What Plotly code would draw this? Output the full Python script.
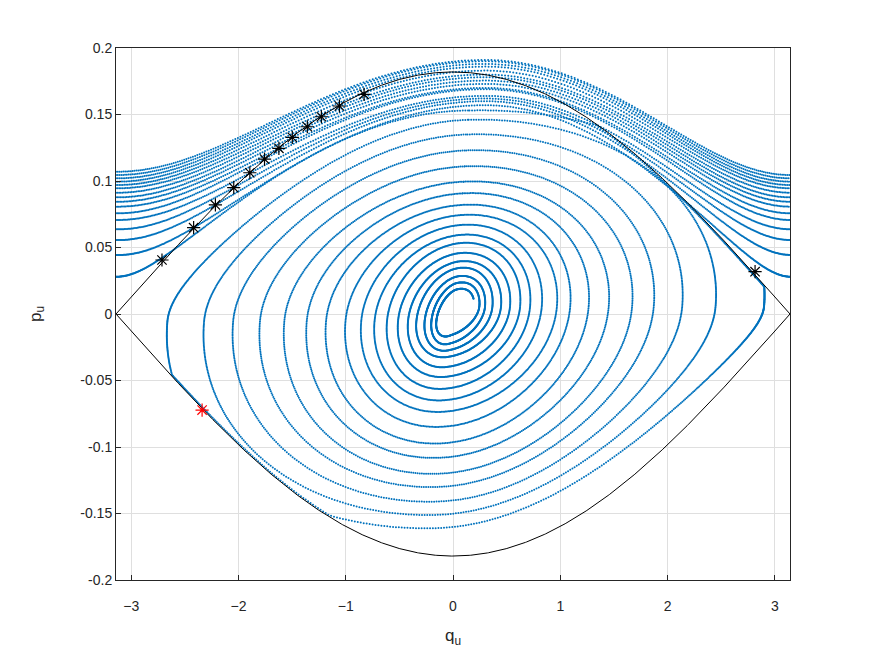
import numpy as np
import plotly.graph_objects as go

# separatrix half height at q = 0
sep_amp = 0.182

# rotating passes: p at the left edge (q = -pi); pass i ends at the right edge with pass_left[i+1]
pass_left = [0.107, 0.1045, 0.102, 0.0995, 0.097, 0.0945, 0.0912, 0.0877, 0.0844,
             0.0807, 0.0757, 0.0707, 0.0637, 0.0556, 0.0444, 0.028]
# peak p of each full rotating pass
pass_peak = [0.191, 0.190, 0.188, 0.186, 0.183, 0.180, 0.178, 0.1755, 0.173,
             0.170, 0.169, 0.164, 0.162, 0.160, 0.157]
peak_q = 0.3

# librating loops after capture: crossings of q = 0 (top/bottom) and p = 0 (right/left)
lib_top = [0.153, 0.146, 0.135, 0.123, 0.111, 0.0995, 0.0907, 0.082, 0.0744, 0.0669,
           0.0594, 0.0532, 0.0456, 0.0393, 0.0343, 0.028, 0.023, 0.018]
lib_right = [2.894, 2.442, 2.131, 1.866, 1.664, 1.446, 1.259, 1.087, 0.963, 0.822,
             0.713, 0.620, 0.526, 0.442, 0.362, 0.293, 0.24, 0.19]
lib_bottom = [-0.161, -0.151, -0.141, -0.13, -0.12, -0.108, -0.0972, -0.0847, -0.0734,
              -0.0647, -0.056, -0.047, -0.0396, -0.032, -0.027, -0.022, -0.0158]
lib_left = [-2.657, -2.315, -2.044, -1.794, -1.567, -1.358, -1.178, -0.997, -0.850,
            -0.726, -0.610, -0.507, -0.414, -0.336, -0.259, -0.196, -0.150]
end_p = 0.0055

# markers on the separatrix
star_q = [-2.713, -2.418, -2.215, -2.044, -1.894, -1.757, -1.623, -1.498, -1.358,
          -1.227, -1.059, -0.829, 2.816]
star_p = [0.0406, 0.0649, 0.0820, 0.0950, 0.1062, 0.1165, 0.1246, 0.1328, 0.1408,
          0.1483, 0.1564, 0.1652, 0.0318]
red_q = [-2.339]
red_p = [-0.0722]

PI = np.pi
SX, SY = 107.0, 1330.0          # px per data unit, used only for dot spacing
W2 = (sep_amp / 2) ** 2
TILT = 0.006
SHEAR = 1.0


def sample(q, p, h=0.16):
    # place dots at equal time steps of the pendulum flow
    dq = np.diff(q) * SX
    dp = np.diff(p) * SY
    ds = np.hypot(dq, dp)
    qm = (q[1:] + q[:-1]) / 2
    pm = (p[1:] + p[:-1]) / 2
    v = np.hypot(SX * pm, SY * W2 * np.sin(qm)) + 0.05
    t = np.concatenate([[0], np.cumsum(ds / v)])
    tt = np.arange(0, t[-1], h)
    return np.interp(tt, t, q), np.interp(tt, t, p)


Q, P = [], []


def add(q, p):
    a, b = sample(np.asarray(q), np.asarray(p))
    Q.append(a)
    P.append(b)


qq = np.linspace(-PI, PI, 4000)
for i, pk in enumerate(pass_peak):
    L, R = pass_left[i], pass_left[i + 1]
    e = L + (R - L) * (qq + PI) / (2 * PI)
    th = np.where(qq < peak_q, (qq - peak_q) * PI / (PI + peak_q),
                  (qq - peak_q) * PI / (PI - peak_q))
    add(qq, np.sqrt(e ** 2 + (pk ** 2 - e ** 2) * np.cos(th / 2) ** 2))

# capture pass, left half
e0 = pass_left[-1]
qh = np.linspace(-PI, 0, 3000)
ph = np.sqrt(e0 ** 2 + (lib_top[0] ** 2 - e0 ** 2) * np.cos(qh / 2) ** 2)
add(qh + SHEAR * ph * (qh + PI) / PI, ph)


def loop_piece(f0, f1, T, R, B, Lf):
    f = np.linspace(f0, f1, 3000)
    s = np.sin(f)
    c = np.cos(f)
    ext = np.where(s >= 0, R, abs(Lf))
    # upper-right and lower-left quarters are elliptic, the other two pendulum-like
    q_ell = ext * s
    q_pen = 2 * np.arcsin(np.sin(ext / 2) * s)
    q = np.where(s * c >= 0, q_ell, q_pen)
    p = np.where(c >= 0, T, abs(B)) * c
    p = p + TILT * q / ext
    q = q + SHEAR * p
    sp = sep_amp * np.cos(np.clip(q, -PI, PI) / 2) - 0.0012
    p = np.clip(p, -sp, sp)
    return q, p


n = len(lib_bottom)
for k in range(n):
    T, R, B, Lf, Tn = lib_top[k], lib_right[k], lib_bottom[k], lib_left[k], lib_top[k + 1]
    q1, p1 = loop_piece(0, PI / 2, T, R, B, Lf)
    q2, p2 = loop_piece(PI / 2, 3 * PI / 2, T, R, B, Lf)
    q3, p3 = loop_piece(3 * PI / 2, 2 * PI, Tn, R, B, Lf)
    add(np.concatenate([q1, q2, q3]), np.concatenate([p1, p2, p3]))

# last partial arc of the spiral
Tl, Rl = lib_top[-1], lib_right[-1]
fe = np.arccos(end_p / Tl)
qe, pe = loop_piece(0, fe, Tl, Rl, lib_bottom[-1], lib_left[-1])
add(qe, pe)

dots_q = np.concatenate(Q)
dots_p = np.concatenate(P)

qs = np.linspace(-PI, PI, 801)
sep = sep_amp * np.cos(qs / 2)

fig = go.Figure()
fig.add_trace(go.Scatter(x=dots_q, y=dots_p, mode="markers",
                         marker=dict(color="#0072BD", size=2, line=dict(width=0)),
                         hoverinfo="skip"))
fig.add_trace(go.Scatter(x=np.concatenate([qs, [None], qs]), y=np.concatenate([sep, [None], -sep]),
                         mode="lines", line=dict(color="black", width=1)))
fig.add_trace(go.Scatter(x=star_q, y=star_p, mode="markers",
                         marker=dict(symbol="asterisk-open", size=11, color="black",
                                     line=dict(color="black", width=1.2))))
fig.add_trace(go.Scatter(x=red_q, y=red_p, mode="markers",
                         marker=dict(symbol="asterisk-open", size=11, color="red",
                                     line=dict(color="red", width=1.2))))

axis_font = dict(family="Liberation Sans, Arial, sans-serif", size=14, color="#262626")
title_font = dict(family="Liberation Sans, Arial, sans-serif", size=17, color="#262626")
fig.update_xaxes(range=[-PI, PI], tickvals=[-3, -2, -1, 0, 1, 2, 3],
                 showline=True, mirror=True, linecolor="#262626", linewidth=1,
                 ticks="inside", ticklen=5, tickcolor="#262626", ticklabelstandoff=13,
                 showgrid=True, gridcolor="#dfdfdf", zeroline=False, tickfont=axis_font,
                 title=dict(text="q<sub>u</sub>", font=title_font, standoff=16))
yt = [0.2, 0.15, 0.1, 0.05, 0, -0.05, -0.1, -0.15, -0.2]
fig.update_yaxes(range=[-0.2, 0.2], tickvals=yt, ticktext=["0.2", "0.15", "0.1", "0.05", "0",
                                                            "-0.05", "-0.1", "-0.15", "-0.2"],
                 showline=True, mirror=True, linecolor="#262626", linewidth=1,
                 ticks="inside", ticklen=5, tickcolor="#262626",
                 showgrid=True, gridcolor="#dfdfdf", zeroline=False, tickfont=axis_font,
                 title=dict(text="p<sub>u</sub>", font=title_font, standoff=34))
fig.update_layout(width=867, height=648, showlegend=False,
                  margin=dict(l=108, r=85, t=40, b=76),
                  plot_bgcolor="white", paper_bgcolor="white")
fig.write_html("out.html")
